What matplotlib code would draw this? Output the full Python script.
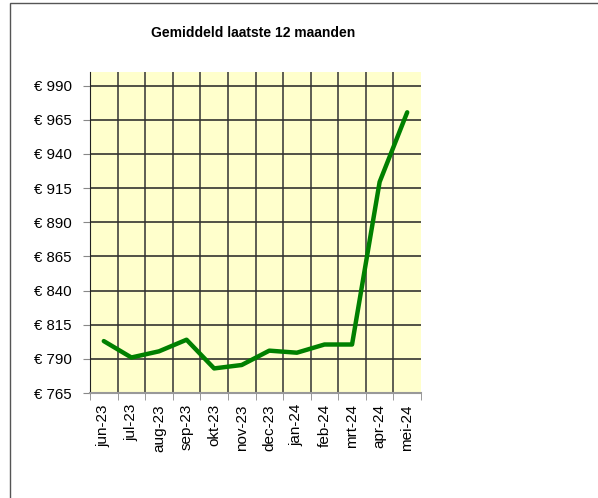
import matplotlib
matplotlib.use("Agg")
import matplotlib.pyplot as plt
from matplotlib.patches import Rectangle

plt.rcParams['font.family'] = ['Liberation Sans', 'DejaVu Sans']

# data
maanden = ['jun-23', 'jul-23', 'aug-23', 'sep-23', 'okt-23', 'nov-23',
           'dec-23', 'jan-24', 'feb-24', 'mrt-24', 'apr-24', 'mei-24']
gemiddeld = [803, 791, 795.5, 804, 783, 785.5, 796, 794.5, 800.5, 800.5, 919.5, 970.5]
y_ticks = [765, 790, 815, 840, 865, 890, 915, 940, 965, 990]

fig = plt.figure(figsize=(5.98, 4.98), dpi=100)
# chart border (cropped at right/bottom)
fig.patches.append(Rectangle((10 / 598, -0.1), 2, 1.1 - 3 / 498, transform=fig.transFigure,
                             fill=False, edgecolor='#555555', linewidth=1))

ax = fig.add_axes([90 / 598, 1 - 393 / 498, 331 / 598, 321 / 498])
ax.set_facecolor('#FFFFCC')

x = list(range(len(maanden)))
ax.plot(x, gemiddeld, color='#008000', linewidth=3.2, solid_capstyle='round', zorder=3)

ax.set_xlim(-0.5, len(maanden) - 0.5)
ax.set_ylim(765, 1000)

ax.set_yticks(y_ticks)
ax.set_yticklabels(['€ %d' % v for v in y_ticks], fontsize=10.8)
ax.set_xticks(x)
ax.set_xticklabels(maanden, rotation=90, fontsize=11)
ax.tick_params(axis='x', length=0, pad=8)
ax.set_xticks([i - 0.5 for i in range(len(maanden) + 1)], minor=True)
ax.tick_params(axis='x', which='minor', length=5, color='#888888')
ax.tick_params(axis='y', length=5, color='#888888', pad=8)

# grid
for v in y_ticks[1:]:
    ax.axhline(v, color='#222222', linewidth=1.1, zorder=1)
for i in range(1, len(maanden)):
    ax.axvline(i - 0.5, color='#333333', linewidth=1.1, zorder=1)

for s in ['top', 'right']:
    ax.spines[s].set_visible(False)
ax.spines['left'].set_color('#222222')
ax.spines['bottom'].set_color('#999999')
ax.spines['bottom'].set_linewidth(1.5)

fig.text(253 / 598, 1 - 33 / 498, 'Gemiddeld laatste 12 maanden', ha='center', va='center',
         fontsize=10, fontweight='bold')

fig.savefig('out.png', dpi=100)
